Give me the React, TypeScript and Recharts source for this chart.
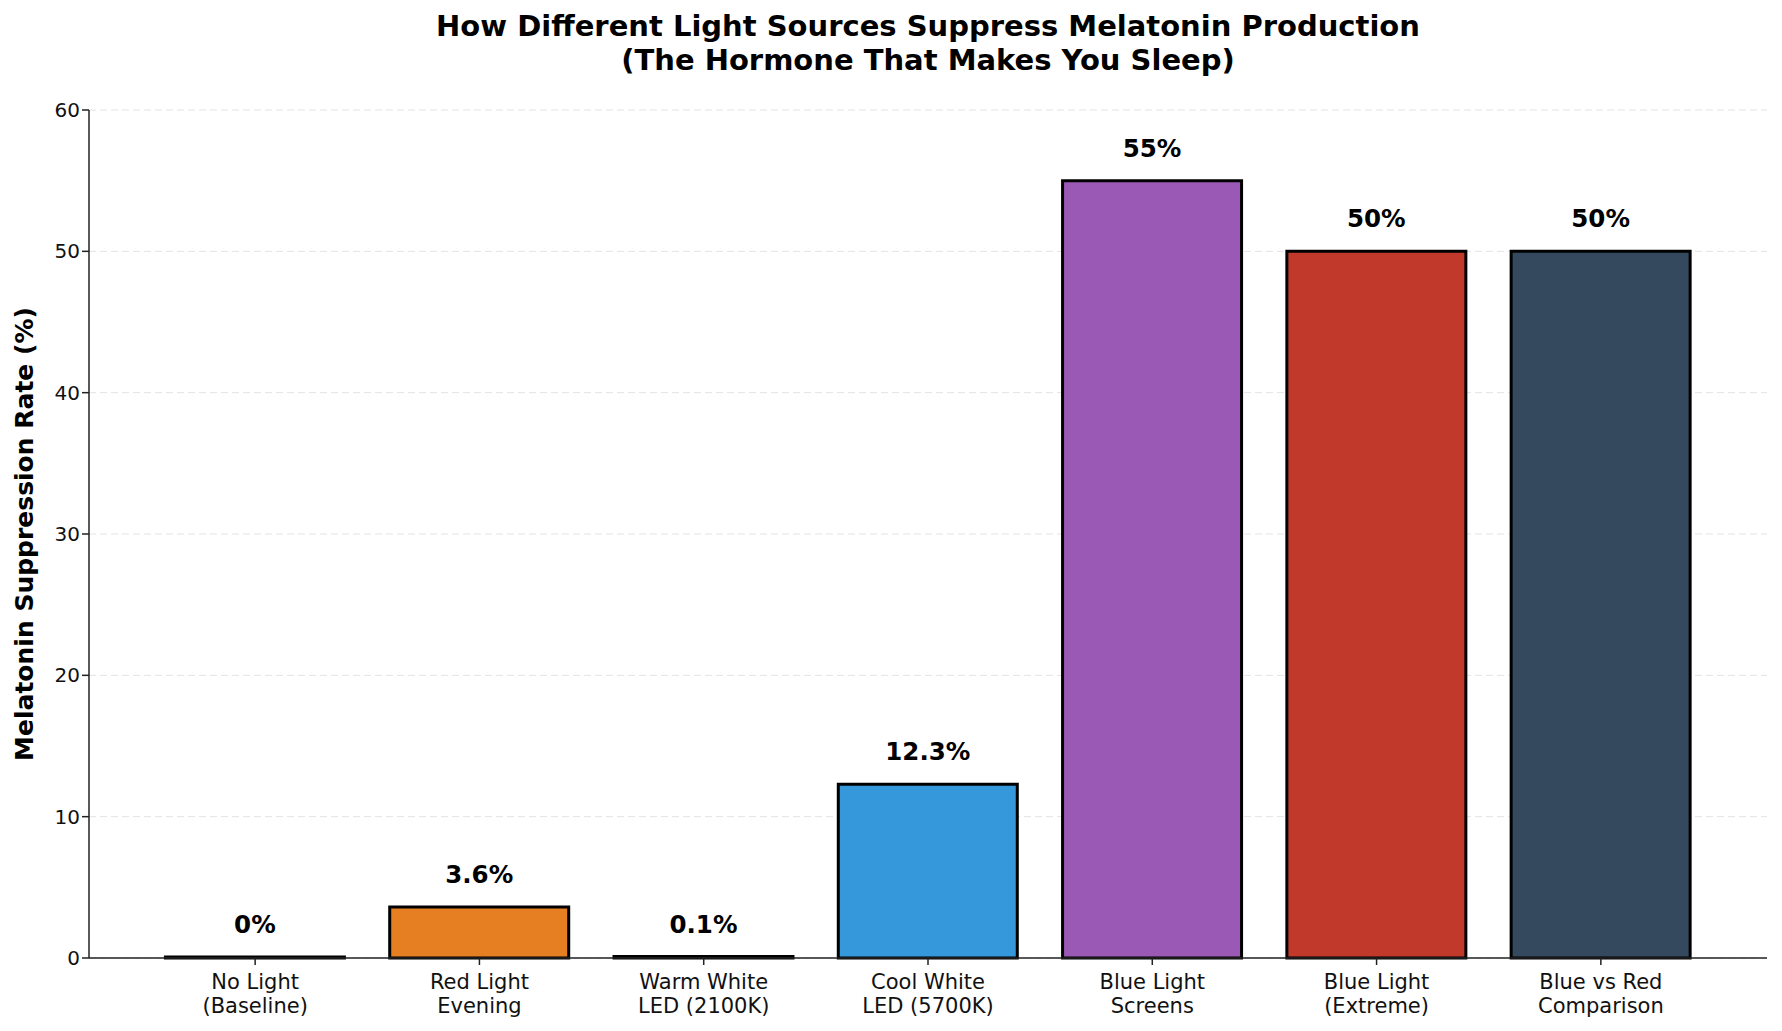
import React from 'react';
import { BarChart, Bar, XAxis, YAxis, CartesianGrid, Cell, LabelList } from 'recharts';

const categories = [
  'No Light\n(Baseline)',
  'Red Light\nEvening',
  'Warm White\nLED (2100K)',
  'Cool White\nLED (5700K)',
  'Blue Light\nScreens',
  'Blue Light\n(Extreme)',
  'Blue vs Red\nComparison',
];
const suppression = [0, 3.6, 0.1, 12.3, 55, 50, 50];
const barColors = ['#2c3e50', '#e67e22', '#f1c40f', '#3498db', '#9b59b6', '#c0392b', '#34495e'];
const yTicks = [0, 10, 20, 30, 40, 50, 60];

const FONT = '"DejaVu Sans", sans-serif';

const data = categories.map((name, i) => ({ name, value: suppression[i] }));

const CategoryTick = (props: any) => {
  const { x, y, payload } = props;
  const lines = String(payload.value).split('\n');
  return (
    <g transform={`translate(${x},${y})`}>
      <text textAnchor="middle" fontSize={21} fontFamily={FONT} fill="#111">
        {lines.map((l, i) => (
          <tspan key={i} x={0} dy={i === 0 ? 22 : 24}>
            {l}
          </tspan>
        ))}
      </text>
    </g>
  );
};

const App = () => {
  return (
    <div style={{ position: 'absolute', left: 0, top: 0, width: 1782, height: 1031, background: '#fff' }}>
      <div
        style={{
          position: 'absolute',
          left: 89,
          width: 1678,
          top: 9,
          textAlign: 'center',
          fontFamily: FONT,
          fontWeight: 'bold',
          fontSize: 29,
          lineHeight: '34px',
          color: '#000',
        }}
      >
        How Different Light Sources Suppress Melatonin Production
        <br />
        (The Hormone That Makes You Sleep)
      </div>
      <BarChart
        width={1782}
        height={1031}
        data={data}
        margin={{ top: 110, right: 15, bottom: 0, left: 0 }}
        barCategoryGap="10%"
      >
        <CartesianGrid vertical={false} stroke="#e3e3e3" strokeDasharray="7 4" />
        <XAxis
          dataKey="name"
          interval={0}
          height={73}
          padding={{ left: 54, right: 54 }}
          tick={<CategoryTick />}
          tickSize={7}
          axisLine={{ stroke: '#222', strokeWidth: 1.5 }}
          tickLine={{ stroke: '#222', strokeWidth: 1.5 }}
        />
        <YAxis
          width={89}
          domain={[0, 60]}
          ticks={yTicks}
          tickSize={7}
          tick={{ fontSize: 20, fontFamily: FONT, fill: '#111' }}
          axisLine={{ stroke: '#222', strokeWidth: 1.5 }}
          tickLine={{ stroke: '#222', strokeWidth: 1.5 }}
          label={{
            value: 'Melatonin Suppression Rate (%)',
            angle: -90,
            position: 'center',
            dx: -20,
            style: { fontSize: 25, fontWeight: 'bold', fontFamily: FONT, fill: '#000', textAnchor: 'middle' },
          }}
        />
        <Bar dataKey="value" stroke="#000" strokeWidth={3} minPointSize={1} isAnimationActive={false}>
          {data.map((d, i) => (
            <Cell key={i} fill={barColors[i]} />
          ))}
          <LabelList
            dataKey="value"
            position="top"
            offset={24}
            formatter={(v: any) => `${v}%`}
            style={{ fontSize: 24.5, fontWeight: 'bold', fontFamily: FONT, fill: '#000' }}
          />
        </Bar>
      </BarChart>
    </div>
  );
};

export default App;
